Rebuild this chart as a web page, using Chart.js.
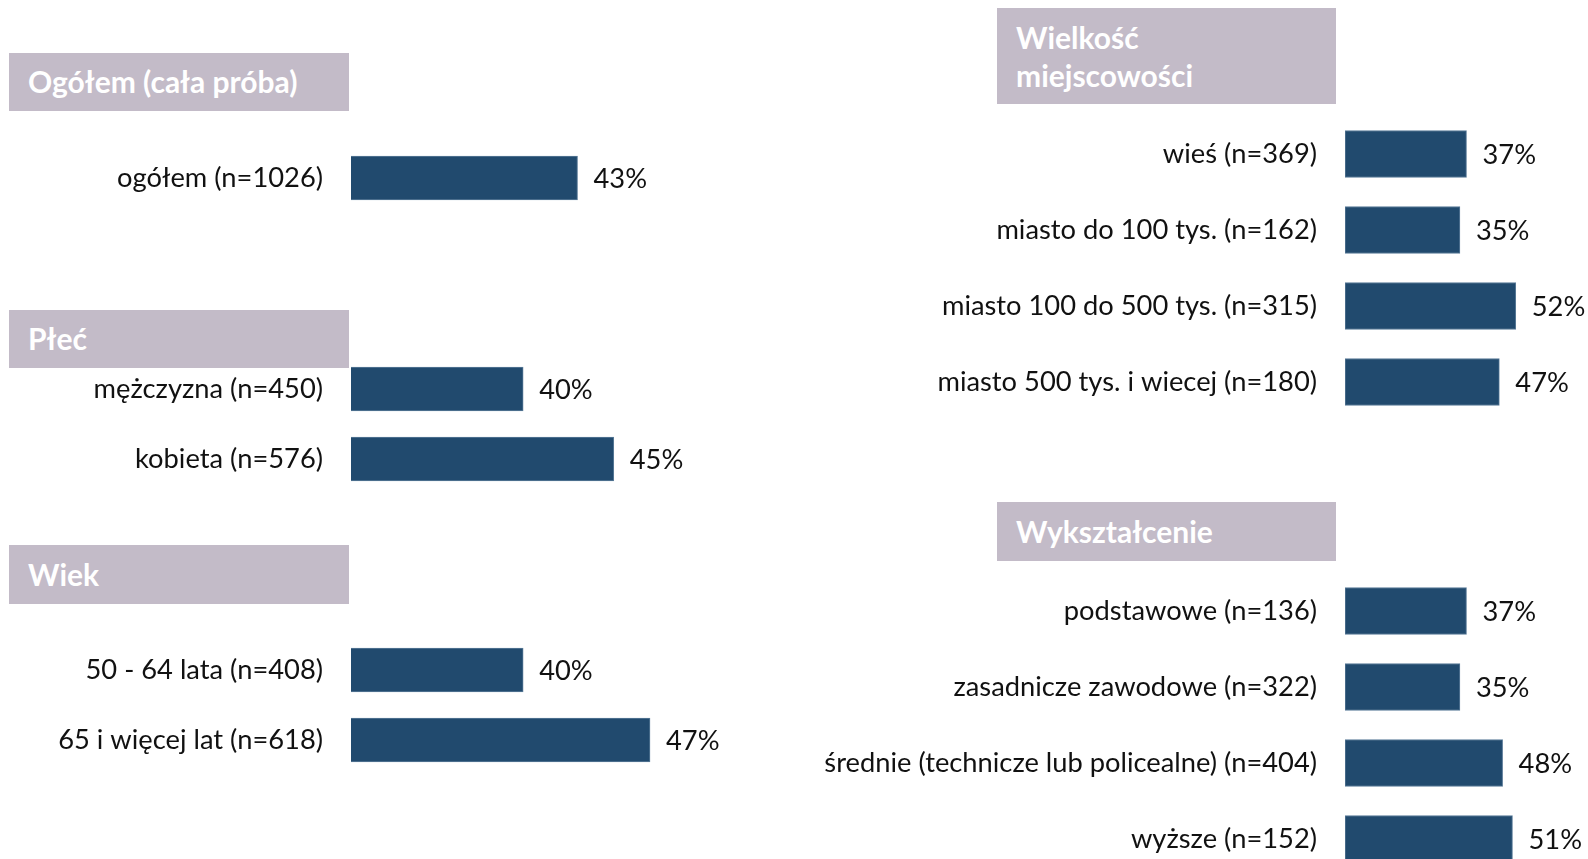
<!DOCTYPE html>
<html>
<head>
<meta charset="utf-8">
<script src="https://cdn.jsdelivr.net/npm/chart.js@4"></script>
<style>
  html, body { margin: 0; padding: 0; background: #fff; width: 1588px; height: 859px; overflow: hidden; }
  .hdr {
    position: absolute; background: #c3bbc8; color: #fff;
    font-family: Lato, sans-serif; font-weight: bold; font-size: 30px;
    line-height: 37.5px; box-sizing: border-box; padding-left: 19px;
  }
  canvas { position: absolute; }
</style>
</head>
<body>
<div class="hdr" style="left:9px;top:53px;width:340px;height:58px;padding-top:10px;">Ogółem (cała próba)</div>
<div class="hdr" style="left:9px;top:310px;width:340px;height:58px;padding-top:10px;">Płeć</div>
<div class="hdr" style="left:9px;top:545px;width:340px;height:59px;padding-top:11px;">Wiek</div>
<div class="hdr" style="left:997px;top:8px;width:339px;height:96px;padding-top:11px;">Wielkość<br>miejscowości</div>
<div class="hdr" style="left:997px;top:502px;width:339px;height:59px;padding-top:11px;">Wykształcenie</div>

<canvas id="cTotal" width="795" height="72" style="left:0;top:142px;"></canvas>
<canvas id="cGender" width="795" height="140" style="left:0;top:354px;"></canvas>
<canvas id="cAge" width="795" height="140" style="left:0;top:635px;"></canvas>
<canvas id="cPlace" width="788" height="304" style="left:800px;top:116px;"></canvas>
<canvas id="cEdu" width="788" height="304" style="left:800px;top:573px;"></canvas>

<script>
const totalLabels = ["ogółem (n=1026)"];
const totalValues = [43];

const genderLabels = ["mężczyzna (n=450)", "kobieta (n=576)"];
const genderValues = [40, 45];

const ageLabels = ["50 - 64 lata (n=408)", "65 i więcej lat (n=618)"];
const ageValues = [40, 47];

const placeLabels = ["wieś (n=369)", "miasto do 100 tys. (n=162)", "miasto 100 do 500 tys. (n=315)", "miasto 500 tys. i wiecej (n=180)"];
const placeValues = [37, 35, 52, 47];

const eduLabels = ["podstawowe (n=136)", "zasadnicze zawodowe (n=322)", "średnie (technicze lub policealne) (n=404)", "wyższe (n=152)"];
const eduValues = [37, 35, 48, 51];

const FONT = "Lato, sans-serif";
const FSIZE = 27.3;
const BAR = "#214a6e";

// wartości za słupkami
const valueLabels = {
    id: "valueLabels",
    afterDatasetsDraw(chart) {
        const ctx = chart.ctx;
        const meta = chart.getDatasetMeta(0);
        ctx.save();
        ctx.font = FSIZE + "px " + FONT;
        ctx.fillStyle = "#111";
        ctx.textAlign = "left";
        ctx.textBaseline = "middle";
        meta.data.forEach((bar, i) => {
            ctx.fillText(chart.data.datasets[0].data[i] + "%", bar.x + 16, bar.y + 1);
        });
        ctx.restore();
    }
};

function makeChart(id, labels, values, axisWidth, min, max, thickness) {
    new Chart(document.getElementById(id), {
        type: "bar",
        data: {
            labels: labels,
            datasets: [{
                data: values,
                backgroundColor: BAR,
                borderColor: "#5a7b98",
                borderWidth: 1,
                borderSkipped: false,
                barThickness: thickness,
            }],
        },
        options: {
            indexAxis: "y",
            responsive: false,
            animation: false,
            devicePixelRatio: 1,
            layout: { padding: 0 },
            plugins: {
                legend: { display: false },
                tooltip: { enabled: false },
            },
            scales: {
                x: { display: false, min: min, max: max },
                y: {
                    grid: { display: false, drawTicks: false },
                    border: { display: false },
                    ticks: {
                        color: "#111",
                        font: { family: FONT, size: FSIZE },
                        padding: 28,
                    },
                    afterFit(scale) {
                        scale.width = axisWidth;
                        scale.paddingTop = 0;
                        scale.paddingBottom = 0;
                    },
                },
            },
        },
        plugins: [valueLabels],
    });
}

makeChart("cTotal", totalLabels, totalValues, 351, 30.5, 55, 44);
makeChart("cGender", genderLabels, genderValues, 351, 30.5, 55, 44);
makeChart("cAge", ageLabels, ageValues, 351, 30.5, 55, 44);
makeChart("cPlace", placeLabels, placeValues, 545, 0, 74, 47);
makeChart("cEdu", eduLabels, eduValues, 545, 0, 74, 47);
</script>
</body>
</html>
